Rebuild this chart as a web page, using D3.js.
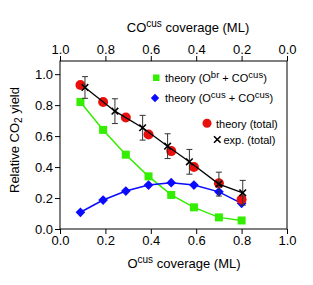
<!DOCTYPE html>
<html>
<head>
<meta charset="utf-8">
<script src="https://cdn.jsdelivr.net/npm/d3@7"></script>
<style>
body { margin: 0; background: #fff; }
text { font-family: "Liberation Sans", Arial, sans-serif; }
</style>
</head>
<body>
<svg id="chart" width="313" height="285"></svg>
<script>
// O^cus coverage positions (ML)
const xTheory = [0.09, 0.19, 0.29, 0.39, 0.49, 0.59, 0.70, 0.80];
const yObr = [0.82, 0.64, 0.48, 0.34, 0.22, 0.14, 0.075, 0.055];
const yOcus = [0.108, 0.187, 0.245, 0.284, 0.299, 0.284, 0.24, 0.166];
const yTotal = [0.93, 0.82, 0.72, 0.61, 0.503, 0.40, 0.295, 0.19];
const xExp = [0.11, 0.242, 0.364, 0.474, 0.57, 0.70, 0.805];
const yExp = [0.914, 0.761, 0.654, 0.535, 0.434, 0.29, 0.234];
const errExp = [0.07, 0.08, 0.08, 0.08, 0.08, 0.077, 0.08];
const xTicks = [0, 0.2, 0.4, 0.6, 0.8, 1.0];
const yTicks = [0, 0.2, 0.4, 0.6, 0.8, 1.0];

var margin = {top: 61, right: 26, bottom: 56, left: 60},
    W = 313, H = 285,
    width = W - margin.left - margin.right,
    height = H - margin.top - margin.bottom;

var svg = d3.select("#chart");
var g = svg.append("g")
    .attr("transform", "translate(" + margin.left + "," + margin.top + ")");

var x = d3.scaleLinear().domain([0, 1]).range([0, width]);
var xTop = d3.scaleLinear().domain([1, 0]).range([0, width]);
var y = d3.scaleLinear().domain([0, 1.085]).range([height, 0]);

function styleAxis(sel) {
    sel.selectAll("text").attr("font-size", 13).attr("fill", "#000")
       .attr("font-family", "'Liberation Sans', Arial, sans-serif");
    sel.selectAll("line").attr("stroke", "#000");
    sel.select(".domain").remove();
}

g.append("g")
    .attr("transform", "translate(0," + height + ")")
    .call(d3.axisBottom(x).tickValues(xTicks).tickFormat(d3.format(".1f")).tickSize(5).tickPadding(2))
    .call(styleAxis);

g.append("g")
    .call(d3.axisTop(xTop).tickValues(xTicks).tickFormat(d3.format(".1f")).tickSize(5).tickPadding(2))
    .call(styleAxis);

g.append("g")
    .call(d3.axisLeft(y).tickValues(yTicks).tickFormat(d3.format(".1f")).tickSize(5).tickPadding(2))
    .call(styleAxis);

// frame
g.append("rect")
    .attr("width", width).attr("height", height)
    .attr("fill", "none").attr("stroke", "#000").attr("stroke-width", 1);

var line = d3.line()
    .x(function(d) { return x(d[0]); })
    .y(function(d) { return y(d[1]); });

var greenData = xTheory.map((v, i) => [v, yObr[i]]);
var blueData = xTheory.map((v, i) => [v, yOcus[i]]);
var redData = xTheory.map((v, i) => [v, yTotal[i]]);
var expData = xExp.map((v, i) => [v, yExp[i], errExp[i]]);

var green = "#33ee00", blue = "#0a0aff", red = "#e8100c";

g.append("path").datum(greenData)
    .attr("fill", "none").attr("stroke", green).attr("stroke-width", 1.5).attr("d", line);
g.append("path").datum(blueData)
    .attr("fill", "none").attr("stroke", blue).attr("stroke-width", 1.5).attr("d", line);

g.selectAll(".sq").data(greenData).enter().append("rect")
    .attr("x", d => x(d[0]) - 4).attr("y", d => y(d[1]) - 4)
    .attr("width", 8).attr("height", 8).attr("fill", green);

var diamond = d3.symbol().type(d3.symbolDiamond2).size(60);
g.selectAll(".dm").data(blueData).enter().append("path")
    .attr("d", diamond)
    .attr("transform", d => "translate(" + x(d[0]) + "," + y(d[1]) + ")")
    .attr("fill", blue);

g.selectAll(".rc").data(redData).enter().append("circle")
    .attr("cx", d => x(d[0])).attr("cy", d => y(d[1])).attr("r", 5)
    .attr("fill", red);

// experiment: line, error bars, crosses
g.append("path").datum(expData)
    .attr("fill", "none").attr("stroke", "#000").attr("stroke-width", 1.3).attr("d", line);

var eb = g.selectAll(".eb").data(expData).enter().append("g").attr("stroke", "#333").attr("stroke-width", 1);
eb.append("line")
    .attr("x1", d => x(d[0])).attr("x2", d => x(d[0]))
    .attr("y1", d => y(d[1] + d[2])).attr("y2", d => y(d[1] - d[2]));
eb.append("line")
    .attr("x1", d => x(d[0]) - 3).attr("x2", d => x(d[0]) + 3)
    .attr("y1", d => y(d[1] + d[2])).attr("y2", d => y(d[1] + d[2]));
eb.append("line")
    .attr("x1", d => x(d[0]) - 3).attr("x2", d => x(d[0]) + 3)
    .attr("y1", d => y(d[1] - d[2])).attr("y2", d => y(d[1] - d[2]));

var cross = d3.symbol().type(d3.symbolX).size(30);
g.selectAll(".cx").data(expData).enter().append("path")
    .attr("d", cross)
    .attr("transform", d => "translate(" + x(d[0]) + "," + y(d[1]) + ")")
    .attr("fill", "none").attr("stroke", "#000").attr("stroke-width", 1.6);

// legend
var lg = svg.append("g");
lg.append("rect").attr("x", 153).attr("y", 74.5).attr("width", 6.5).attr("height", 6.5).attr("fill", green);
var t1 = lg.append("text").attr("x", 165).attr("y", 81.5).attr("font-size", 11);
t1.append("tspan").text("theory (O");
t1.append("tspan").attr("dy", -4).attr("font-size", 9.5).text("br");
t1.append("tspan").attr("dy", 4).text(" + CO");
t1.append("tspan").attr("dy", -4).attr("font-size", 9.5).text("cus");
t1.append("tspan").attr("dy", 4).text(")");

lg.append("path").attr("d", d3.symbol().type(d3.symbolDiamond2).size(45)).attr("transform", "translate(155,98)").attr("fill", blue);
var t2 = lg.append("text").attr("x", 165).attr("y", 102).attr("font-size", 11);
t2.append("tspan").text("theory (O");
t2.append("tspan").attr("dy", -4).attr("font-size", 9.5).text("cus");
t2.append("tspan").attr("dy", 4).text(" + CO");
t2.append("tspan").attr("dy", -4).attr("font-size", 9.5).text("cus");
t2.append("tspan").attr("dy", 4).text(")");

lg.append("circle").attr("cx", 207).attr("cy", 123.3).attr("r", 4.5).attr("fill", red);
lg.append("text").attr("x", 216).attr("y", 127.5).attr("font-size", 11).text("theory (total)");

lg.append("path").attr("d", cross).attr("transform", "translate(217.3,139.5)")
    .attr("fill", "none").attr("stroke", "#000").attr("stroke-width", 1.6);
lg.append("text").attr("x", 223.5).attr("y", 143.5).attr("font-size", 11).text("exp. (total)");

// axis titles
var tt = svg.append("text").attr("x", 188).attr("y", 32).attr("text-anchor", "middle").attr("font-size", 13);
tt.append("tspan").text("CO");
tt.append("tspan").attr("dy", -5).attr("font-size", 10).text("cus");
tt.append("tspan").attr("dy", 5).text(" coverage (ML)");

var bt = svg.append("text").attr("x", 184).attr("y", 268).attr("text-anchor", "middle").attr("font-size", 13);
bt.append("tspan").text("O");
bt.append("tspan").attr("dy", -5).attr("font-size", 10).text("cus");
bt.append("tspan").attr("dy", 5).text(" coverage (ML)");

var yt = svg.append("text").attr("transform", "translate(19,140) rotate(-90)")
    .attr("text-anchor", "middle").attr("font-size", 13);
yt.append("tspan").text("Relative CO");
yt.append("tspan").attr("dy", 3).attr("font-size", 10).text("2");
yt.append("tspan").attr("dy", -3).text(" yield");
</script>
</body>
</html>
